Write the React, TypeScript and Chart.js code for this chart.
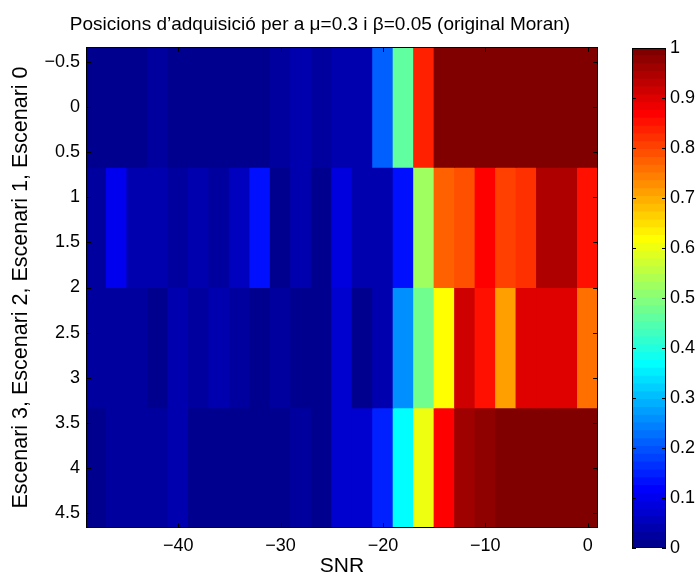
import React, { useEffect, useRef } from 'react';
import { Chart, registerables } from 'chart.js';

Chart.register(...registerables);

// SNR (x) categories: column centres of the image
const snrValues = [-48, -46, -44, -42, -40, -38, -36, -34, -32, -30, -28, -26, -24, -22, -20, -18, -16, -14, -12, -10, -8, -6, -4, -2, 0];

// Row centres on the y axis (imagesc mapping of 4 rows onto 0..4)
const rowCenters = [0, 4 / 3, 8 / 3, 4];

// Cell values (0..1) for each scenario row
const scenari0 = [0.005, 0.005, 0.005, 0.02, 0.005, 0.005, 0.005, 0.005, 0.005, 0.02, 0.04, 0.02, 0.04, 0.04, 0.21, 0.46, 0.835, 1, 1, 1, 1, 1, 1, 1, 1];
const scenari1 = [0.02, 0.1, 0.04, 0.04, 0.03, 0.04, 0.02, 0.055, 0.13, 0.005, 0.04, 0.005, 0.09, 0.04, 0.04, 0.13, 0.52, 0.77, 0.79, 0.865, 0.8, 0.82, 0.945, 0.945, 0.85];
const scenari2 = [0.02, 0.02, 0.02, 0.005, 0.045, 0.025, 0.045, 0.025, 0.01, 0.025, 0.01, 0.01, 0.07, 0.01, 0.04, 0.26, 0.475, 0.615, 0.91, 0.85, 0.71, 0.895, 0.895, 0.895, 0.755];
const scenari3 = [0.005, 0.025, 0.025, 0.025, 0.045, 0.005, 0.005, 0.005, 0.005, 0.005, 0.02, 0.005, 0.07, 0.075, 0.145, 0.365, 0.6, 0.865, 0.96, 0.975, 1, 1, 1, 1, 1];

const xTickValues = [-40, -30, -20, -10, 0];
const yTickValues = [-0.5, 0, 0.5, 1, 1.5, 2, 2.5, 3, 3.5, 4, 4.5];
const cbTickValues = [0, 0.1, 0.2, 0.3, 0.4, 0.5, 0.6, 0.7, 0.8, 0.9, 1];

const titleText = 'Posicions d\u2019adquisici\u00f3 per a \u03bc=0.3 i \u03b2=0.05 (original Moran)';
const xLabel = 'SNR';
const yLabel = 'Escenari 3, Escenari 2, Escenari 1, Escenari 0';

const FONT = '"Liberation Sans", Arial, Helvetica, sans-serif';

// MATLAB jet(64)
function jetU(k: number): number {
  if (k < 1 || k > 47) return 0;
  if (k <= 16) return k / 16;
  if (k <= 31) return 1;
  return (48 - k) / 16;
}
function jetColor(idx: number): string {
  const i = idx + 1;
  const r = Math.round(jetU(i - 24) * 255);
  const g = Math.round(jetU(i - 8) * 255);
  const b = Math.round(jetU(i + 8) * 255);
  return `rgb(${r},${g},${b})`;
}
function colorFor(v: number): string {
  const c = Math.max(0, Math.min(1, v));
  return jetColor(Math.min(63, Math.floor(c * 64)));
}
const fmt = (v: number | string) => String(v).replace('-', '\u2212');

export default function App() {
  const mainRef = useRef<HTMLCanvasElement>(null);
  const cbRef = useRef<HTMLCanvasElement>(null);

  useEffect(() => {
    if (!mainRef.current || !cbRef.current) return;
    const rows = [scenari0, scenari1, scenari2, scenari3];
    const half = (rowCenters[1] - rowCenters[0]) / 2;
    const yMin = rowCenters[0] - half;
    const yMax = rowCenters[rowCenters.length - 1] + half;
    const dx = snrValues[1] - snrValues[0];
    const xMin = snrValues[0] - dx / 2;
    const xMax = snrValues[snrValues.length - 1] + dx / 2;

    const frame = {
      id: 'frame',
      afterDatasetsDraw(chart: any) {
        const { ctx, chartArea: a, scales } = chart;
        ctx.save();
        ctx.strokeStyle = '#000';
        ctx.lineWidth = 1;
        const tl = 5;
        ctx.beginPath();
        xTickValues.forEach((v) => {
          const p = Math.round(scales.x.getPixelForValue(v)) + 0.5;
          ctx.moveTo(p, a.bottom);
          ctx.lineTo(p, a.bottom - tl);
          ctx.moveTo(p, a.top);
          ctx.lineTo(p, a.top + tl);
        });
        yTickValues.forEach((v) => {
          const p = Math.round(scales.y.getPixelForValue(v)) + 0.5;
          ctx.moveTo(a.left, p);
          ctx.lineTo(a.left + tl, p);
          ctx.moveTo(a.right, p);
          ctx.lineTo(a.right - tl, p);
        });
        ctx.stroke();
        ctx.strokeRect(a.left + 0.5, a.top + 0.5, a.right - a.left - 1, a.bottom - a.top - 1);
        ctx.restore();
      },
      afterDraw(chart: any) {
        const { ctx, chartArea: a } = chart;
        ctx.save();
        ctx.font = `19px ${FONT}`;
        ctx.fillStyle = '#000';
        ctx.textAlign = 'center';
        ctx.textBaseline = 'middle';
        ctx.fillText(titleText, (a.left + a.right) / 2 - 22, 25);
        ctx.restore();
      },
    };

    const mainChart = new Chart(mainRef.current, {
      type: 'bar',
      data: {
        datasets: rows.map((vals, r) => ({
          label: `Escenari ${r}`,
          data: snrValues.map((x) => ({ x, y: [rowCenters[r] - half, rowCenters[r] + half] })),
          backgroundColor: vals.map(colorFor),
          borderWidth: 0,
          barPercentage: 1,
          categoryPercentage: 1,
          grouped: false,
          inflateAmount: 0.5,
          clip: 0,
        })) as any,
      },
      options: {
        responsive: false,
        animation: false,
        layout: { padding: { left: 0, right: 102, top: 47, bottom: 0 } },
        plugins: { legend: { display: false }, tooltip: { enabled: false }, title: { display: false } },
        scales: {
          x: {
            type: 'linear',
            min: xMin,
            max: xMax,
            bounds: 'data',
            offset: false,
            grid: { display: false, drawTicks: false },
            border: { display: false },
            afterBuildTicks: (s: any) => { s.ticks = xTickValues.map((value) => ({ value })); },
            afterFit: (s: any) => { s.height = 49; },
            ticks: {
              callback: (v: any) => fmt(v),
              font: { family: FONT, size: 18, lineHeight: 1 },
              color: '#000',
              padding: 9,
              maxRotation: 0,
              autoSkip: false,
            },
            title: { display: true, text: xLabel, font: { family: FONT, size: 21, lineHeight: 1 }, color: '#000', padding: { top: 0, bottom: 0 } },
          },
          y: {
            type: 'linear',
            reverse: true,
            min: yMin,
            max: yMax,
            bounds: 'data',
            grid: { display: false, drawTicks: false },
            border: { display: false },
            afterBuildTicks: (s: any) => { s.ticks = yTickValues.map((value) => ({ value })); },
            afterFit: (s: any) => { s.width = 86; },
            ticks: {
              callback: (v: any) => fmt(v),
              font: { family: FONT, size: 18, lineHeight: 1 },
              color: '#000',
              padding: 6,
              autoSkip: false,
            },
            title: { display: true, text: yLabel, font: { family: FONT, size: 21.5, lineHeight: 1 }, color: '#000', padding: { top: 10, bottom: 0 } },
          },
        },
      } as any,
      plugins: [frame],
    });

    const levels = Array.from({ length: 64 }, (_, i) => i);
    const cbFrame = {
      id: 'cbFrame',
      afterDatasetsDraw(chart: any) {
        const { ctx, chartArea: a, scales } = chart;
        ctx.save();
        ctx.strokeStyle = '#000';
        ctx.lineWidth = 1;
        const tl = 4;
        ctx.beginPath();
        cbTickValues.forEach((v) => {
          const p = Math.round(scales.y.getPixelForValue(v)) + 0.5;
          ctx.moveTo(a.left, p);
          ctx.lineTo(a.left + tl, p);
          ctx.moveTo(a.right, p);
          ctx.lineTo(a.right - tl, p);
        });
        ctx.stroke();
        ctx.strokeRect(a.left + 0.5, a.top + 0.5, a.right - a.left - 1, a.bottom - a.top - 1);
        ctx.restore();
      },
    };

    const cbChart = new Chart(cbRef.current, {
      type: 'bar',
      data: {
        labels: [''],
        datasets: levels.map((i) => ({
          data: [[i / 64, (i + 1) / 64]],
          backgroundColor: jetColor(i),
          borderWidth: 0,
          barPercentage: 1,
          categoryPercentage: 1,
          grouped: false,
          inflateAmount: 0.5,
          clip: 0,
        })) as any,
      },
      options: {
        responsive: false,
        animation: false,
        layout: { padding: { left: 32, right: 0, top: 48, bottom: 29 } },
        plugins: { legend: { display: false }, tooltip: { enabled: false } },
        scales: {
          x: { display: false },
          y: {
            position: 'right',
            min: 0,
            max: 1,
            bounds: 'data',
            grid: { display: false, drawTicks: false },
            border: { display: false },
            afterBuildTicks: (s: any) => { s.ticks = cbTickValues.map((value) => ({ value })); },
            afterFit: (s: any) => { s.width = 34; },
            ticks: {
              callback: (v: any) => fmt(v),
              font: { family: FONT, size: 18, lineHeight: 1 },
              color: '#000',
              padding: 4,
              autoSkip: false,
            },
          },
        },
      } as any,
      plugins: [cbFrame],
    });

    return () => {
      mainChart.destroy();
      cbChart.destroy();
    };
  }, []);

  return (
    <div style={{ position: 'absolute', left: 0, top: 0, width: 700, height: 577, background: '#fff' }}>
      <canvas ref={mainRef} width={700} height={577} style={{ position: 'absolute', left: 0, top: 0 }} />
      <canvas ref={cbRef} width={100} height={577} style={{ position: 'absolute', left: 600, top: 0 }} />
    </div>
  );
}
